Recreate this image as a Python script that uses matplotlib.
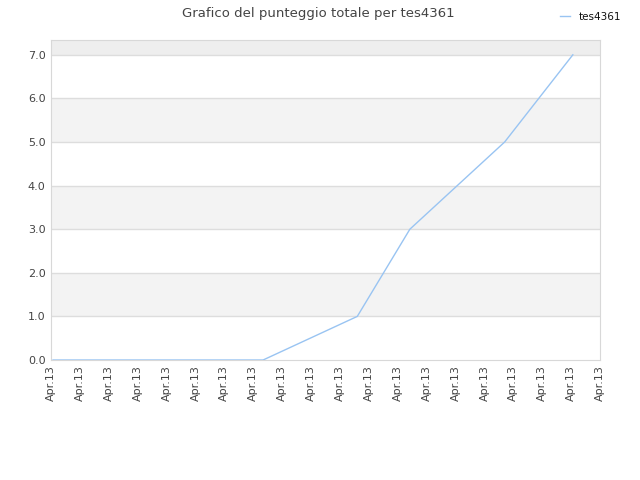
import numpy as np
import matplotlib.pyplot as plt

# dati (posizione sull'asse x in unita' di tick)
x_pos = [0.07, 7.34, 10.6, 12.42, 15.7, 18.06]
punteggio = [0.0, 0.0, 1.0, 3.0, 5.0, 7.0]
tick_labels = ['Apr.13'] * 20

fig = plt.figure(figsize=(6.4, 4.8), dpi=100)
ax = fig.add_axes([0.0797, 0.25, 0.8578, 0.6667])

y_max = 7.34
# bande alternate
for i in range(8):
    lo, hi = i, min(i + 1, y_max)
    if i % 2 == 1:
        col = '#eeeeee' if i == 7 else '#f3f3f3'
        ax.axhspan(lo, hi, color=col, zorder=0, lw=0)
for y in range(1, 8):
    ax.axhline(y, color='#dddddd', lw=1, zorder=1)

ax.plot(x_pos, punteggio, color='#99c4f2', lw=1, label='tes4361', zorder=3)

ax.set_xlim(0, 19)
ax.set_ylim(0, y_max)
ax.set_xticks(range(20))
ax.set_xticklabels(tick_labels, rotation=90, fontsize=8, color='#444444')
ax.set_yticks(range(8))
ax.set_yticklabels(['%.1f' % v for v in range(8)], fontsize=8, color='#444444')
ax.tick_params(length=0, pad=4)
for s in ax.spines.values():
    s.set_color('#d8d8d8')

fig.suptitle('Grafico del punteggio totale per tes4361', x=0.497, y=0.985,
             fontsize=9.5, color='#444444')
leg = fig.legend(loc='upper right', bbox_to_anchor=(0.985, 0.995), frameon=False,
                 fontsize=7.5, handlelength=1.0)
for t in leg.get_texts():
    t.set_color('#111111')

plt.savefig('out.png')
